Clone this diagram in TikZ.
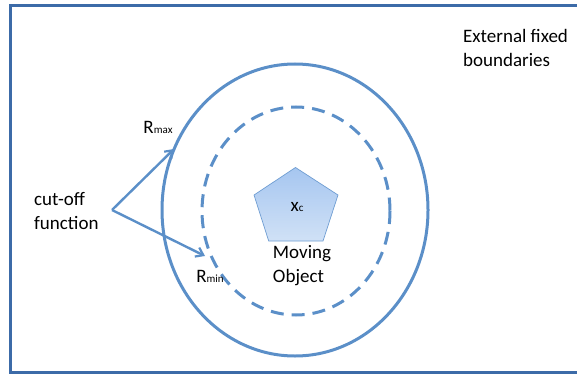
\documentclass[tikz,border=0pt]{standalone}
\usepackage{fontspec}
\setmainfont{Carlito}
\usetikzlibrary{arrows.meta}
\definecolor{frameblue}{HTML}{3C6BA8}
\definecolor{lineblue}{HTML}{5B8FC8}
\definecolor{padtop}{HTML}{A6C6F0}
\definecolor{padbot}{HTML}{D0E1F6}
\definecolor{padedge}{HTML}{6F9DD2}
\newcommand{\smallidx}[1]{{\fontsize{11}{13}\selectfont #1}}
\tikzset{
  lbl/.style={font=\fontsize{19}{24}\selectfont, inner sep=0pt, align=left},
  ring/.style={draw=lineblue, line width=3pt},
  pointer/.style={draw=lineblue, line width=2.4pt, -{Straight Barb[length=7pt,width=10pt,line width=2.2pt]}}
}
\begin{document}
\begin{tikzpicture}[x=1pt,y=-1pt]
\useasboundingbox (0,0) rectangle (577,377);
% domain boundary (right side runs off the page)
\draw[frameblue, line width=3pt] (590,5.5) -- (10.5,5.5) -- (10.5,372.5) -- (590,372.5);
% cut-off rings
\draw[ring] (295,210) ellipse [x radius=133, y radius=146];
\draw[ring, dash pattern=on 13pt off 8pt] (296,211) ellipse [x radius=94, y radius=104];
% moving object
\path[draw=padedge, line width=0.7pt, top color=padtop, bottom color=padbot]
  (295.5,167.5) -- (338,195) -- (323,241) -- (268.7,241) -- (254,195) -- cycle;
\node[lbl] (xc) at (297,207) {x\smallidx{c}};
\node[lbl] (obj) at (302,266) {Moving\\Object};
% labels
\node[lbl, anchor=west] (cut) at (34,211) {cut-off\\function};
\node[lbl] (rmax) at (158,127) {R\smallidx{max}};
\node[lbl] (rmin) at (210,276) {R\smallidx{min}};
\node[lbl, anchor=west] (ext) at (463,48) {External fixed\\boundaries};
% pointers
\coordinate (fork) at (112,210);
\coordinate (tipmax) at (174,149);
\coordinate (tipmin) at (205,256);
\draw[pointer] (fork) -- (tipmax);
\draw[pointer] (fork) -- (tipmin);
\end{tikzpicture}
\end{document}
